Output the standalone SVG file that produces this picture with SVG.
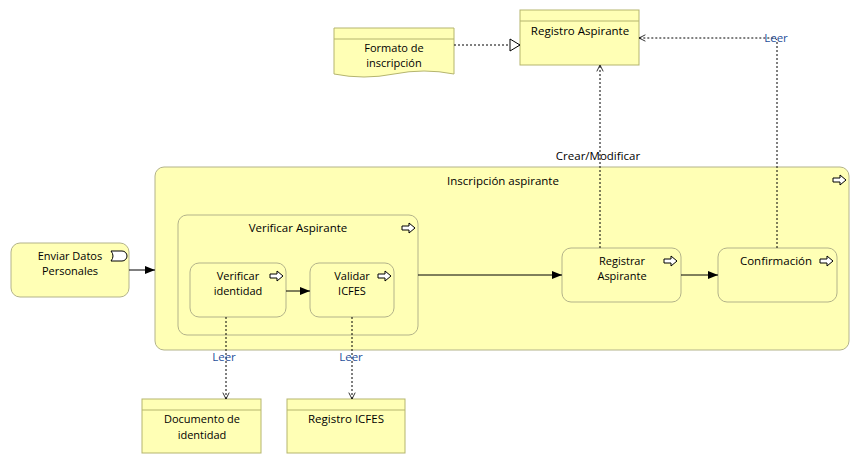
<svg xmlns="http://www.w3.org/2000/svg" width="861" height="464" viewBox="0 0 861 464">
<defs>
<style>
.obj{fill:#ffffb5;stroke:#b5b56e;stroke-width:1}
.proc{fill:#ffffb5;stroke:#b3b38a;stroke-width:1}
.t{font-family:"Segoe UI","Open Sans","Noto Sans",sans-serif;font-size:11.5px;fill:#000;text-anchor:middle}
.t2{font-family:"Segoe UI","Open Sans","Noto Sans",sans-serif;font-size:11px;fill:#000;text-anchor:middle}
.lbl{font-family:"Segoe UI","Open Sans","Noto Sans",sans-serif;font-size:11.5px;fill:#1f4f9a;text-anchor:middle}
.flow{fill:none;stroke:#000;stroke-width:1}
.dot{fill:none;stroke:#000;stroke-width:1;stroke-dasharray:2,2}
.icon{fill:#fff;stroke:#000;stroke-width:1}
</style>
<marker id="fill" viewBox="0 0 10 10" refX="10" refY="5" markerWidth="10" markerHeight="10" markerUnits="userSpaceOnUse" orient="auto"><path d="M0,1 L10,5 L0,9 z" fill="#000"/></marker>
<marker id="open" viewBox="0 0 10 10" refX="9" refY="5" markerWidth="8" markerHeight="8" markerUnits="userSpaceOnUse" orient="auto"><path d="M1,1 L9,5 L1,9" fill="none" stroke="#000"/></marker>
<marker id="tri" viewBox="0 0 12 14" refX="11" refY="7" markerWidth="12" markerHeight="14" markerUnits="userSpaceOnUse" orient="auto"><path d="M1,1 L11,7 L1,13 z" fill="#fff" stroke="#000"/></marker>
<path id="pi" d="M0,-2 H7 V-5 L13,0 L7,5 V2 H0 z"/>
</defs>

<g id="inscripcion-aspirante">
<rect class="proc" x="155" y="167" width="694" height="183" rx="9"/>
<text class="t" x="503" y="185">Inscripción aspirante</text>
<use href="#pi" class="icon" x="833" y="180"/>
</g>

<g id="verificar-aspirante">
<rect class="proc" x="178" y="215" width="240" height="120" rx="9"/>
<text class="t" x="298" y="232">Verificar Aspirante</text>
<use href="#pi" class="icon" x="402" y="228"/>
</g>

<g id="registro-aspirante">
<rect class="obj" x="520" y="10" width="119" height="55"/>
<line x1="520" y1="21" x2="639" y2="21" stroke="#b5b56e"/>
<text class="t" x="580" y="35">Registro Aspirante</text>
</g>

<g id="formato-inscripcion">
<path class="obj" d="M334,28 H454 V74 Q424,68 394,74 Q364,80 334,74 z"/>
<line x1="334" y1="39" x2="454" y2="39" stroke="#b5b56e"/>
<text class="t2" x="394" y="52">Formato de</text>
<text class="t2" x="394" y="67">inscripción</text>
</g>

<g id="enviar-datos">
<rect class="proc" x="11" y="243" width="118" height="54" rx="9"/>
<text class="t2" x="70" y="260">Enviar Datos</text>
<text class="t2" x="70" y="275">Personales</text>
<path class="icon" d="M111,251 H122 A5,5 0 0 1 122,261 H111 Q115,256 111,251 z"/>
</g>

<g id="verificar-identidad">
<rect class="proc" x="190" y="263" width="96" height="54" rx="9"/>
<text class="t2" x="238" y="280">Verificar</text>
<text class="t2" x="238" y="295">identidad</text>
<use href="#pi" class="icon" x="270" y="276"/>
</g>

<g id="validar-icfes">
<rect class="proc" x="310" y="263" width="84" height="54" rx="9"/>
<text class="t2" x="352" y="280">Validar</text>
<text class="t2" x="352" y="295">ICFES</text>
<use href="#pi" class="icon" x="378" y="276"/>
</g>

<g id="registrar-aspirante">
<rect class="proc" x="562" y="248" width="119" height="54" rx="9"/>
<text class="t2" x="622" y="265">Registrar</text>
<text class="t2" x="622" y="280">Aspirante</text>
<use href="#pi" class="icon" x="664" y="261"/>
</g>

<g id="confirmacion">
<rect class="proc" x="718" y="248" width="119" height="54" rx="9"/>
<text class="t" x="776" y="265">Confirmación</text>
<use href="#pi" class="icon" x="820" y="261"/>
</g>

<g id="documento-identidad">
<rect class="obj" x="142" y="399" width="119" height="54"/>
<line x1="142" y1="410" x2="261" y2="410" stroke="#b5b56e"/>
<text class="t2" x="202" y="423">Documento de</text>
<text class="t2" x="202" y="439">identidad</text>
</g>

<g id="registro-icfes">
<rect class="obj" x="287" y="399" width="118" height="54"/>
<line x1="287" y1="410" x2="405" y2="410" stroke="#b5b56e"/>
<text class="t" x="346" y="423">Registro ICFES</text>
</g>

<g id="connectors">
<path class="dot" d="M454,45 H520" marker-end="url(#tri)"/>
<path class="flow" d="M129,270 H155" marker-end="url(#fill)"/>
<path class="flow" d="M286,291 H310" marker-end="url(#fill)"/>
<path class="flow" d="M418,275 H562" marker-end="url(#fill)"/>
<path class="flow" d="M681,275 H718" marker-end="url(#fill)"/>
<path class="dot" d="M600,248 V65" marker-end="url(#open)"/>
<text class="t" x="598" y="160" fill="#1a2a4a">Crear/Modificar</text>
<path class="dot" d="M777,248 V42 Q777,38 773,38 H639" marker-end="url(#open)"/>
<text class="lbl" x="776" y="42">Leer</text>
<path class="dot" d="M226,317 V399" marker-end="url(#open)"/>
<text class="lbl" x="224" y="361">Leer</text>
<path class="dot" d="M352,317 V399" marker-end="url(#open)"/>
<text class="lbl" x="351" y="361">Leer</text>
</g>
</svg>
